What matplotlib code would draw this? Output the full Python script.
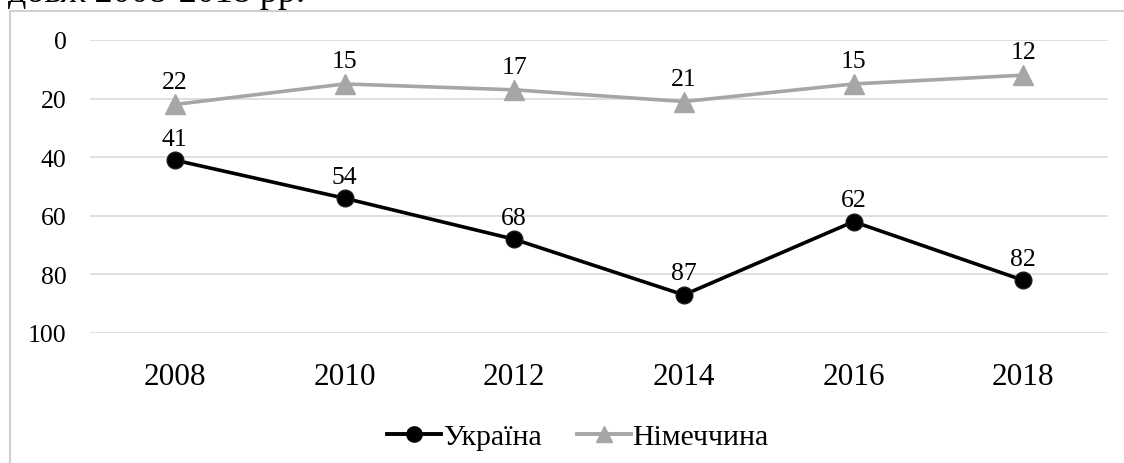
import matplotlib
matplotlib.use("Agg")
import matplotlib.pyplot as plt
from matplotlib.patches import Rectangle
from matplotlib.lines import Line2D

years = ["2008", "2010", "2012", "2014", "2016", "2018"]
ukraine = [41, 54, 68, 87, 62, 82]
germany = [22, 15, 17, 21, 15, 12]
yticks = [0, 20, 40, 60, 80, 100]

plt.rcParams['font.family'] = ['Liberation Serif', 'DejaVu Serif']

W, H = 1124, 464
fig = plt.figure(figsize=(W/100, H/100), dpi=100)

# chart frame
fig.patches.append(Rectangle((10/W, -0.1), 1.2, (H-12)/H + 0.1, transform=fig.transFigure,
                             fill=False, edgecolor='#d0d0d0', linewidth=1.5))
fig.text(8/W, (H+6)/H, "довж 2008-2018 рр.", fontsize=26, ha='left', va='center')

ax = fig.add_axes([90/W, 130/H, 1018/W, 293/H])
x = list(range(len(years)))
ax.plot(x, germany, color='#a6a6a6', lw=2.6, marker='^', ms=14.5, mec='#a6a6a6', mfc='#a6a6a6', label='Німеччина', zorder=3)
ax.plot(x, ukraine, color='black', lw=2.6, marker='o', ms=12, mec='#1a1a1a', mfc='black', label='Україна', zorder=4)

for xi, v in zip(x, germany):
    ax.annotate(str(v), (xi, v), xytext=(0, 8.5), textcoords='offset points', ha='center', va='bottom', fontsize=18.5)
for xi, v in zip(x, ukraine):
    ax.annotate(str(v), (xi, v), xytext=(0, 7.5), textcoords='offset points', ha='center', va='bottom', fontsize=18.5)

ax.set_xlim(-0.5, len(years) - 0.5)
ax.set_ylim(100, 0)
ax.set_yticks(yticks)
ax.set_yticklabels([str(t) for t in yticks], fontsize=18.5)
ax.set_xticks(x)
ax.set_xticklabels(years, fontsize=22.5)
ax.tick_params(axis='y', length=0, pad=17)
ax.tick_params(axis='x', length=0, pad=21)
ax.grid(axis='y', color='#d9d9d9', lw=1.2)
ax.set_axisbelow(True)
for s in ax.spines.values():
    s.set_visible(False)

handles = [Line2D([0], [0], color='black', lw=2.8, marker='o', ms=11),
           Line2D([0], [0], color='#a6a6a6', lw=2.8, marker='^', ms=12)]
fig.legend(handles, ['Україна', 'Німеччина'], loc='center', bbox_to_anchor=(578/W, (H-438)/H),
           ncol=2, frameon=False, fontsize=21.5, handlelength=1.8, handletextpad=0.05, columnspacing=1.2)

fig.savefig("out.png", dpi=100)
